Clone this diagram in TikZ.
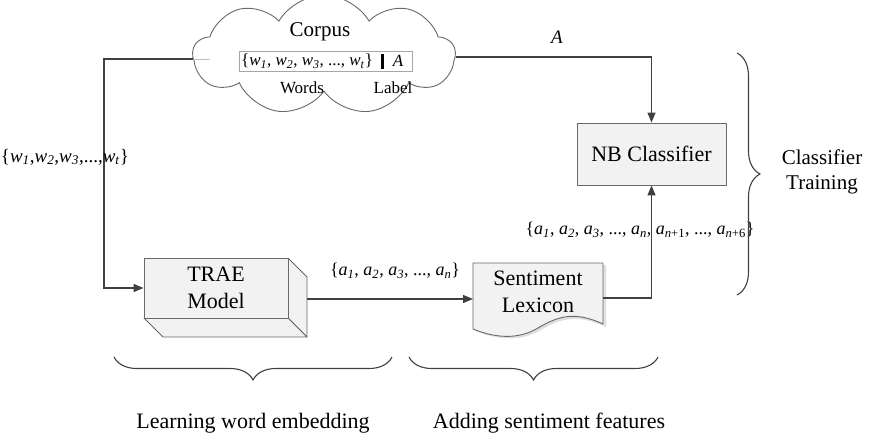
\documentclass[tikz,border=0pt]{standalone}
\usepackage{fontspec}
\setmainfont{Liberation Serif}
\usetikzlibrary{arrows.meta,shapes.symbols,decorations.pathreplacing}
\definecolor{linec}{RGB}{64,64,64}
\definecolor{edgec}{RGB}{105,105,105}
\definecolor{fillc}{RGB}{242,242,242}
\newcommand\sbs[2]{\textit{#1}\textsubscript{\textit{#2}}}
\begin{document}
\begin{tikzpicture}[x=1pt,y=-1pt,
  conn/.style={draw=linec,line width=1.3pt},
  arr/.style={conn,-{Triangle[length=10pt,width=8pt]}},
  boxface/.style={draw=edgec,fill=fillc,line width=0.9pt,line join=round},
  lbl/.style={inner sep=0pt,font=\fontsize{22}{27}\selectfont,align=center},
  mlbl/.style={inner sep=0pt,font=\fontsize{18}{20}\selectfont},
  brc/.style={draw=linec,line width=1.1pt,decorate,decoration={brace,amplitude=23pt}}]
\useasboundingbox (0,0) rectangle (870,439);

% cloud
\node[cloud,draw=edgec,fill=white,line width=0.9pt,cloud puffs=9,cloud puff arc=120,aspect=2.4,
      minimum width=262,minimum height=120,inner sep=0pt] (cloud) at (324,55) {};
\node[lbl,font=\fontsize{21}{22}\selectfont] (corpus) at (320,32) {Corpus};
\node[draw=gray!70,fill=white,line width=0.7pt,minimum width=173,minimum height=20,inner sep=0pt] (wbox) at (325.5,61) {};
\node[mlbl,font=\fontsize{17}{18}\selectfont] (wset) at (307,61) {\{\sbs{w}{1}, \sbs{w}{2}, \sbs{w}{3}, ..., \sbs{w}{t}\}};
\node[fill=black,minimum width=3,minimum height=15,inner sep=0pt] (bar) at (382,61) {};
\node[mlbl,font=\fontsize{17}{18}\selectfont] (alab) at (398,61) {\textit{A}};
\node[lbl,font=\fontsize{17}{18}\selectfont] (words) at (302,88) {Words};
\node[lbl,font=\fontsize{17}{18}\selectfont] (label) at (393,88) {Label};
\draw[gray!50,line width=0.8pt] (193,59) -- (210,59);
\coordinate (cL) at (193,59);
\coordinate (cR) at (456,57);

% NB classifier
\node[boxface,lbl,minimum width=149,minimum height=62] (nb) at (651.5,154) {NB Classifier};

% TRAE model 3D box
\draw[boxface] (288,258) -- (307,277) -- (307,337) -- (288,318) -- cycle;
\draw[boxface] (144,318) -- (163,337) -- (307,337) -- (288,318) -- cycle;
\node[boxface,lbl,minimum width=144,minimum height=60] (trae) at (216,288) {TRAE\\Model};
\coordinate (traeR) at (307,299);

% Sentiment lexicon (document)
\fill[gray!25] (475,265) -- (606,265) -- (606,327) .. controls (578,314) and (561,318) .. (541,330)
   .. controls (521,342) and (498,340) .. (475,331) -- cycle;
\draw[boxface] (473,263) -- (603,263) -- (603,324) .. controls (575,311) and (558,316) .. (538,328)
   .. controls (518,340) and (495,338) .. (473,329) -- cycle;
\node[lbl] (lex) at (538,292) {Sentiment\\Lexicon};
\coordinate (lexW) at (473,299);
\coordinate (lexE) at (603,298);

% connectors
\draw[arr] (cL) -- (104,59) |- (trae.west);
\draw[arr] (cR) -| (nb.north);
\draw[arr] (traeR) -- (lexW);
\draw[arr] (lexE) -| (nb.south);

% connector labels
\node[mlbl,font=\fontsize{19}{20}\selectfont] (Alab) at (557,37) {\textit{A}};
\node[mlbl,font=\fontsize{19}{20}\selectfont] (wlab) at (65,157) {\{\sbs{w}{1},\sbs{w}{2},\sbs{w}{3},...,\sbs{w}{t}\}};
\node[mlbl] (alab1) at (395,271) {\{\sbs{a}{1}, \sbs{a}{2}, \sbs{a}{3}, ..., \sbs{a}{n}\}};
\node[mlbl] (alab2) at (640,230) {\{\sbs{a}{1}, \sbs{a}{2}, \sbs{a}{3}, ..., \sbs{a}{n}, \textit{a}\textsubscript{\textit{n}+1}, ..., \textit{a}\textsubscript{\textit{n}+6}\}};

% braces
\draw[brc] (737,53) -- (737,295);
\draw[brc] (392,357) -- (114,357);
\draw[brc] (658,357) -- (409,357);
\node[lbl,font=\fontsize{21}{25}\selectfont] (ctr) at (822,172) {Classifier\\Training};
\node[lbl] (lwe) at (253,423) {Learning word embedding};
\node[lbl] (asf) at (549,423) {Adding sentiment features};
\end{tikzpicture}
\end{document}
